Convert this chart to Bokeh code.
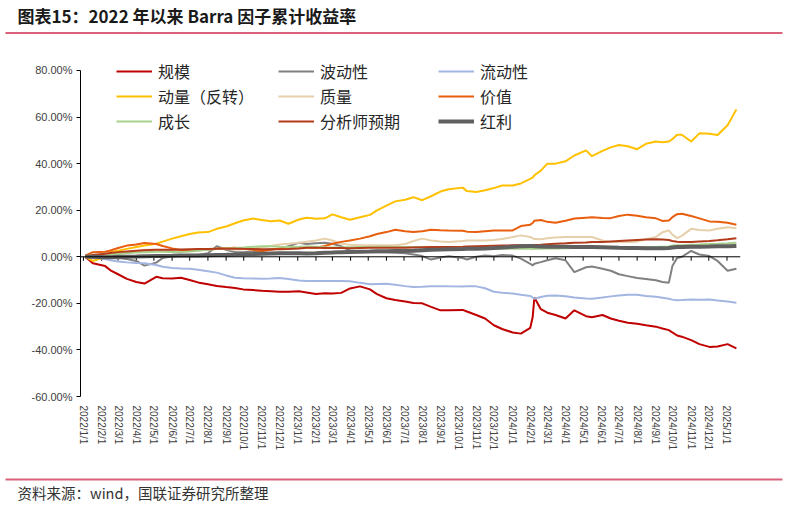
import pandas as pd
from bokeh.plotting import figure
from bokeh.layouts import column
from bokeh.models import (Range1d, FixedTicker, PrintfTickFormatter, Span, Legend, LegendItem)
from bokeh.core.properties import value
from bokeh.embed import file_html
from bokeh.resources import INLINE

title_text = "图表15：2022 年以来 Barra 因子累计收益率"
source_text = "资料来源：wind，国联证券研究所整理"

dates = [
    "2022-01-04", "2022-01-17", "2022-02-07", "2022-02-16", "2022-03-01", "2022-03-16",
    "2022-04-01", "2022-04-15", "2022-05-05", "2022-05-16", "2022-06-01", "2022-06-16",
    "2022-07-01", "2022-07-15", "2022-08-01", "2022-08-16", "2022-09-01", "2022-09-16",
    "2022-09-30", "2022-10-17", "2022-11-01", "2022-11-16", "2022-12-01", "2022-12-16",
    "2023-01-03", "2023-01-16", "2023-02-01", "2023-02-16", "2023-03-01", "2023-03-16",
    "2023-03-31", "2023-04-17", "2023-05-04", "2023-05-16", "2023-06-01", "2023-06-16",
    "2023-07-03", "2023-07-17", "2023-08-01", "2023-08-16", "2023-09-01", "2023-09-15",
    "2023-10-09", "2023-10-16", "2023-11-01", "2023-11-16", "2023-12-01", "2023-12-15",
    "2024-01-02", "2024-01-16", "2024-02-01", "2024-02-05", "2024-02-08", "2024-02-19",
    "2024-03-01", "2024-03-15", "2024-04-01", "2024-04-16", "2024-05-06", "2024-05-16",
    "2024-06-03", "2024-06-17", "2024-07-01", "2024-07-16", "2024-08-01", "2024-08-16",
    "2024-09-02", "2024-09-13", "2024-09-24", "2024-09-30", "2024-10-08", "2024-10-16",
    "2024-11-01", "2024-11-15", "2024-12-02", "2024-12-16", "2025-01-02", "2025-01-17",
]

size = [0, -2.8, -4, -5.8, -7.5, -9.5, -10.8, -11.5, -8.6, -9.2, -9.3, -9, -10, -11, -11.8, -12.5, -13, -13.4, -14, -14.3, -14.6, -14.8, -15, -15,
        -14.8, -15.3, -16, -15.7, -15.8, -15.5, -13.6, -12.7, -14, -16, -17.8, -18.6, -19.2, -19.8, -20, -21.5, -23, -23, -22.8, -23.5, -25, -26.5, -29.4, -31,
        -32.5, -33, -30.5, -26, -17.5, -22.5, -24, -25, -26.5, -23, -25.5, -26, -25, -26.5, -27.5, -28.3, -28.8, -29.4, -30, -30.8, -31.5, -32.5, -33.8, -34.3, -35.8, -37.5, -38.7, -38.5,
        -37.5, -39.3]
volatility = [0, -0.5, -0.8, -0.6, -0.5, -1, -1.8, -3.8, -2.5, -0.5, 0.2, 0.5, 0.6, 0.8, 1.5, 4.5, 3, 2, 2, 2.3, 2.8, 3.2, 3.5, 4.5,
              6, 5.5, 5.8, 6, 5.6, 4.5, 2.7, 2.3, 2.1, 2, 1.9, 1.7, 1.5, 1, 0.3, -1.2, -0.3, 0.2, -0.5, -1.2, 0, 0.6, 0.2, 0.8,
              0.5, -0.8, -3, -3.7, -3, -2.3, -1.5, -0.6, -1.5, -6.6, -4.5, -4.2, -5.1, -6, -7.5, -8.3, -9.1, -9.5, -10.1, -10.8, -11.1, -4, -0.5, 0, 2.5, 1, 0.3, -1.8,
              -6, -5.1]
liquidity = [0, -0.5, -1, -1.5, -2, -2.4, -2.7, -2.8, -3.5, -4.3, -4.8, -5, -5.1, -5.6, -6.2, -6.8, -8, -9, -9.2, -9.3, -9.4, -9.3, -9.1, -9.5,
             -10.2, -10.4, -10.4, -10.4, -10.4, -10.4, -10.5, -11.2, -11.8, -11.7, -11.6, -12, -12.6, -13, -12.9, -12.7, -12.6, -12.7, -12.8, -12.7, -12.7, -13.5, -15, -15.4,
             -15.8, -16.3, -16.8, -17.5, -18, -17.3, -16.7, -16.6, -16.9, -17.5, -17.9, -18, -17.5, -17, -16.6, -16.3, -16.3, -16.8, -17.2, -17.6, -18, -18.4, -18.7, -18.6, -18.3, -18.5, -18.3, -18.8,
             -19.2, -19.7]
momentum = [0, -1.8, 0, 2, 2.6, 3.4, 4.2, 4.8, 5.6, 6.5, 7.8, 8.8, 9.8, 10.4, 10.6, 12, 13, 14.4, 15.6, 16.4, 15.8, 15.3, 15.6, 14.2,
            16, 16.8, 16.3, 16.5, 18.2, 17, 15.9, 17, 18, 19.9, 22, 23.8, 24.5, 25.6, 24.3, 26, 28, 29, 29.7, 28.2, 27.8, 28.6, 29.5, 30.6,
            30.6, 31.5, 33.5, 34, 35, 37, 40, 40, 41, 43.5, 45.7, 43.2, 45.5, 47, 48, 47.5, 46.2, 48.5, 49.5, 49.2, 49.5, 50.5, 52.4, 52.4, 49.5, 53, 52.8, 52.3,
            56.5, 63.3]
quality = [0, 0.3, 0.8, 1.2, 1.5, 2, 2.5, 3, 3, 2.7, 2.5, 2.6, 2.8, 3, 3.3, 3.5, 3.3, 3, 3.2, 3.6, 4, 4.6, 5.3, 5.6,
           6, 6.5, 7, 7.8, 7, 5.6, 5.2, 5, 4.9, 4.9, 4.9, 5, 5.5, 6.8, 7.8, 7, 6.6, 6.3, 6.8, 7, 7, 7, 7.2, 7.6,
           8.5, 9.2, 8.5, 8, 7.6, 7.5, 8, 8.3, 8.5, 8.5, 8.5, 8.5, 7, 6.3, 6.3, 6.3, 6.5, 7.5, 8.5, 10.5, 11.3, 9.5, 8, 9, 12, 11.5, 11.3, 12,
           12.7, 12.3]
value_f = [0.5, 2, 2.2, 2.7, 3.8, 4.8, 5.3, 5.9, 5.5, 4.6, 3.6, 2.9, 2.7, 2.8, 3, 3.4, 3.7, 3.9, 3.5, 3, 2.4, 3, 3.6, 3.9,
           4.2, 4, 3.9, 4.6, 5.6, 6.4, 7, 7.8, 8.8, 9.8, 10.6, 11.6, 11, 10.6, 11, 11.6, 11.4, 11.3, 11.2, 10.8, 10.6, 11, 11.3, 11.3,
           11.3, 13.2, 13.8, 14.5, 15.5, 15.8, 15, 14.6, 15.5, 16.4, 16.8, 17, 16.7, 16.6, 17.5, 18.1, 17.6, 17, 16.5, 15.4, 15.6, 17, 18.3, 18.5, 17.5, 16.5, 15.2, 15,
           14.6, 13.8]
growth = [0, 0.3, 0.6, 0.9, 1.2, 1.5, 1.8, 2, 2.2, 2.2, 2.1, 2, 2.3, 2.6, 3, 3.3, 3.6, 3.8, 4, 4.3, 4.5, 4.5, 4.3, 4.2,
          4.3, 4.4, 4.3, 4.1, 4, 4, 4.1, 4.2, 4.2, 4.3, 4.3, 4.2, 4.2, 4.2, 4.1, 4, 3.8, 3.7, 3.6, 3.6, 3.5, 3.5, 3.5, 3.5,
          3.5, 3.5, 3.4, 3.3, 3.4, 3.5, 3.6, 3.6, 3.7, 3.8, 3.8, 3.9, 3.9, 4, 4, 4.1, 4.1, 4.2, 4.2, 4.3, 4.4, 4.8, 5, 5, 5.2, 5.3, 5.5, 5.6,
          5.8, 6]
analyst = [0, 0.8, 1.3, 1.6, 2, 2.3, 2.6, 2.8, 3, 3, 3, 3.1, 3.2, 3.3, 3.3, 3.4, 3.5, 3.5, 3.4, 3.3, 3.2, 3.2, 3.2, 3.3,
           3.6, 3.9, 3.9, 3.8, 3.8, 3.8, 3.7, 3.8, 3.9, 3.9, 3.9, 3.9, 3.9, 4, 4.1, 4.2, 4.2, 4.2, 4.3, 4.4, 4.5, 4.6, 4.7, 4.8,
           4.9, 4.9, 5, 5, 5.1, 5.2, 5.4, 5.6, 5.8, 6, 6.1, 6.3, 6.4, 6.6, 6.8, 7, 7.2, 7.4, 7.5, 7.4, 7.2, 6.8, 6.5, 6.3, 6.4, 6.6, 6.8, 7.1,
           7.5, 8]
dividend = [0, 0, -0.2, -0.2, 0, 0, 0.1, 0.2, 0.3, 0.3, 0.4, 0.5, 0.6, 0.6, 0.7, 0.8, 0.9, 1, 1.1, 1.2, 1.3, 1.4, 1.5, 1.5,
            1.5, 1.4, 1.5, 1.7, 1.8, 2, 2.1, 2.2, 2.3, 2.4, 2.4, 2.5, 2.5, 2.6, 2.8, 3, 3.1, 3.2, 3.3, 3.4, 3.5, 3.6, 3.8, 4,
            4.3, 4.5, 4.6, 4.6, 4.5, 4.4, 4.3, 4.3, 4.3, 4.2, 4.2, 4.2, 4.1, 4, 3.9, 3.8, 3.8, 3.7, 3.7, 3.7, 3.8, 4, 4.2, 4.2, 4.3, 4.3, 4.4, 4.5,
            4.5, 4.6]

names = ["规模", "波动性", "流动性", "动量（反转）", "质量", "价值", "成长", "分析师预期", "红利"]
series = [size, volatility, liquidity, momentum, quality, value_f, growth, analyst, dividend]
colors = ["#c00000", "#808080", "#a3b6e2", "#ffc000", "#e6d0ab", "#e85e0e", "#a9d18e", "#b23b1b", "#606060"]
widths = [2, 2, 2, 2, 2, 2, 2, 2, 4]

tick_labels = [f"{y}/{m}/1" for y in (2022, 2023, 2024) for m in range(1, 13)] + ["2025/1/1"]
y_ticks = [-60, -40, -20, 0, 20, 40, 60, 80]


def to_ms(seq):
    ts = pd.to_datetime(seq)
    return [int((t - pd.Timestamp("1970-01-01")) // pd.Timedelta("1ms")) for t in ts]


xs = to_ms(dates)
tick_ms = to_ms([s.replace("/", "-") for s in tick_labels])
x_start, x_end = to_ms(["2021-12-27", "2025-01-24"])

W = 785
ACCENT = "#d9627a"


def blank_fig(h):
    f = figure(width=W, height=h, output_backend="svg", toolbar_location=None,
               x_range=Range1d(0, W), y_range=Range1d(h, 0),
               x_axis_type=None, y_axis_type=None,
               min_border=0, min_border_left=0, min_border_right=0,
               min_border_top=0, min_border_bottom=0)
    f.outline_line_color = None
    f.grid.visible = False
    f.frame_align = False
    return f


# ---- title strip ----
top = blank_fig(50)
top.text(x=[17], y=[15], text=[title_text], text_font=value("Noto Sans CJK SC"),
         text_font_style="bold", text_font_size="17px", text_baseline="middle",
         text_color="#1a1a1a")
top.segment(x0=[5], y0=[32.5], x1=[782], y1=[32.5], line_color=ACCENT, line_width=2)

# ---- main chart ----
p = figure(width=W, height=420, output_backend="svg", toolbar_location=None,
           x_range=Range1d(x_start, x_end), y_range=Range1d(-60, 86.87),
           min_border_left=80, min_border_right=45, min_border_top=4, min_border_bottom=74)
p.outline_line_color = None
p.grid.visible = False
p.frame_align = False

ya = p.yaxis[0]
ya.ticker = FixedTicker(ticks=y_ticks)
ya.formatter = PrintfTickFormatter(format="%.2f%%")
ya.bounds = (-60, 80)
ya.axis_line_color = "black"
ya.major_tick_line_color = "black"
ya.major_tick_out = 4
ya.major_tick_in = 0
ya.minor_tick_line_color = None
ya.major_label_text_font = "Liberation Sans"
ya.major_label_text_font_size = "11px"
ya.major_label_text_color = "#404040"
ya.major_label_standoff = 4

xa = p.xaxis[0]
xa.ticker = FixedTicker(ticks=tick_ms)
xa.major_label_overrides = {t: lab for t, lab in zip(tick_ms, tick_labels)}
xa.major_label_orientation = "vertical"
xa.axis_line_color = None
xa.major_tick_line_color = None
xa.minor_tick_line_color = None
xa.major_label_text_font = "Liberation Sans"
xa.major_label_text_font_size = "10px"
xa.major_label_text_color = "#404040"
xa.major_label_standoff = 3

p.add_layout(Span(location=0, dimension="width", line_color="black", line_width=1))
p.segment(x0=tick_ms, y0=[0] * len(tick_ms), x1=tick_ms, y1=[-1.7] * len(tick_ms),
          line_color="black", line_width=1)

rends = []
for vals, c, w in zip(series, colors, widths):
    rends.append(p.line(xs, vals, line_color=c, line_width=w))

cols = [[0, 3, 6], [1, 4, 7], [2, 5, 8]]
leg_x = [36, 198, 358]
for ci, idxs in enumerate(cols):
    items = [LegendItem(label=names[i], renderers=[rends[i]]) for i in idxs]
    lg = Legend(items=items, location=(leg_x[ci], 263), orientation="vertical",
                padding=0, margin=0, spacing=1, glyph_width=36, glyph_height=24,
                label_height=24, label_standoff=6, label_text_font="Noto Sans CJK SC",
                label_text_font_size="16px", label_text_color="#262626",
                border_line_color=None, background_fill_alpha=0)
    p.add_layout(lg, "center")

# ---- source strip ----
bot = blank_fig(33)
bot.segment(x0=[5], y0=[9], x1=[782], y1=[9], line_color=ACCENT, line_width=2)
bot.text(x=[17], y=[22], text=[source_text], text_font=value("Noto Sans CJK SC"),
         text_font_size="14.5px", text_baseline="middle", text_color="#333333")

layout = column(top, p, bot, spacing=0)
open("out.html", "w").write(file_html(layout, INLINE))
